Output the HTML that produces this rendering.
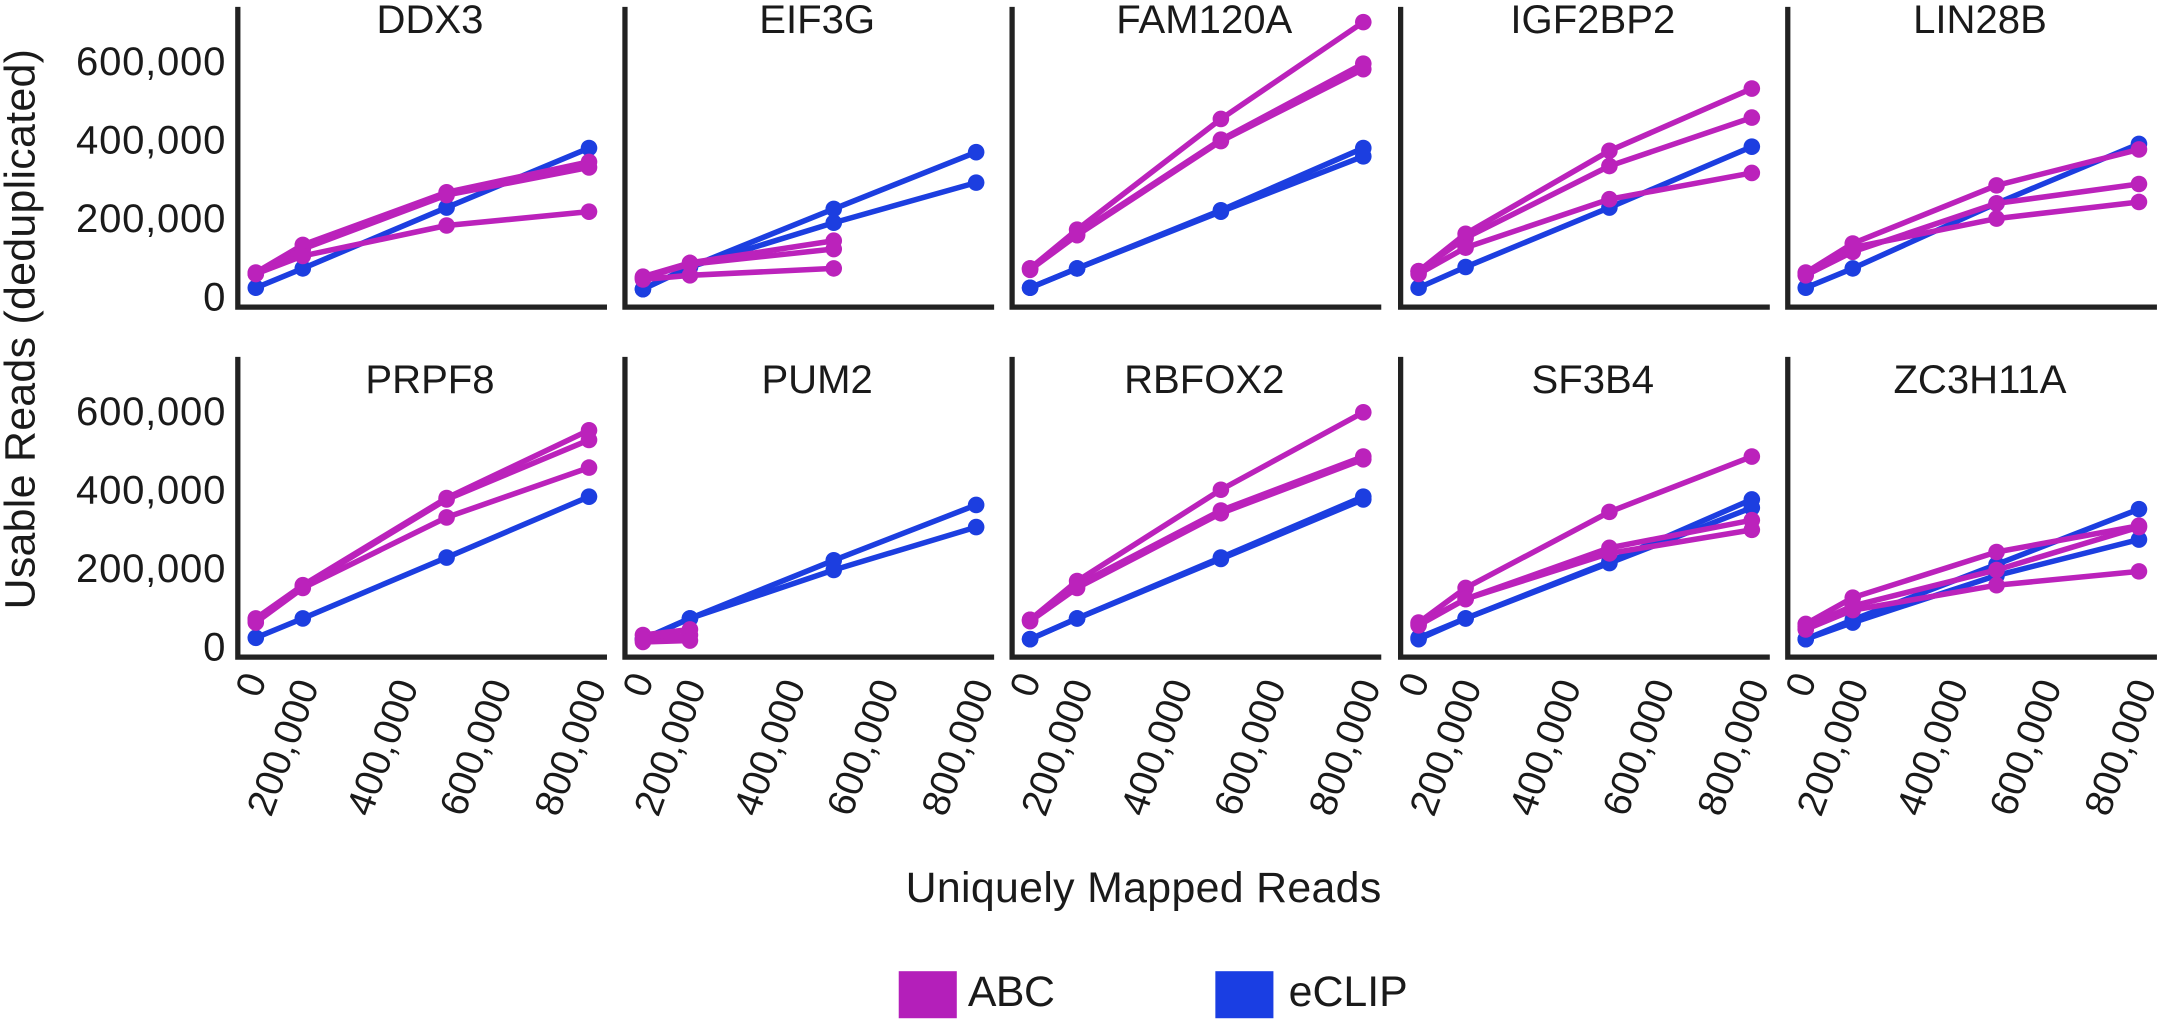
<!DOCTYPE html>
<html><head><meta charset="utf-8"><style>
html,body{margin:0;padding:0;background:#fff;}
svg{display:block;}
text{font-family:"Liberation Sans",Arial,sans-serif;fill:#1a1a1a;}
.ax{stroke:#222;stroke-width:3.8;fill:none;}
.m polyline{stroke:#bb22bb;stroke-width:4;fill:none;stroke-linejoin:round;}
.b polyline{stroke:#1c3ee0;stroke-width:4;fill:none;stroke-linejoin:round;}
.m circle{fill:#bb22bb;}
.b circle{fill:#1c3ee0;}
.yt{font-size:29px;text-anchor:end;}
.tt{font-size:29px;text-anchor:middle;}
.xt{font-size:28px;text-anchor:middle;}
</style></head><body>
<svg id="s" width="2168" height="1021" viewBox="0 0 1568 738" preserveAspectRatio="none" xmlns="http://www.w3.org/2000/svg">
<g>
<text class="yt" x="163" y="224.5">0</text>
<text class="yt" x="163" y="167.7" textLength="108">200,000</text>
<text class="yt" x="163" y="110.9" textLength="108">400,000</text>
<text class="yt" x="163" y="54.1" textLength="108">600,000</text>
<text class="yt" x="163" y="477.5">0</text>
<text class="yt" x="163" y="420.7" textLength="108">200,000</text>
<text class="yt" x="163" y="363.9" textLength="108">400,000</text>
<text class="yt" x="163" y="307.1" textLength="108">600,000</text>
</g>
<text font-size="31" text-anchor="middle" transform="translate(25,238) rotate(-90)" textLength="405">Usable Reads (deduplicated)</text>
<text font-size="31" text-anchor="middle" x="827" y="652" textLength="344">Uniquely Mapped Reads</text>
<rect x="650" y="702" width="42" height="34" fill="#b41fba"/>
<text font-size="31" x="700" y="727" textLength="63">ABC</text>
<rect x="879" y="702" width="42" height="34" fill="#1a3ee3"/>
<text font-size="31" x="932" y="727">eCLIP</text>
<g id="axes"></g>
<g id="data"></g>
</svg>
<script>
(function(){
var NS="http://www.w3.org/2000/svg";
var axes=document.getElementById('axes'),data=document.getElementById('data');
var AX=[172,452,732,1013,1293];
var OFF=[13,47,151,254];
var titles=[["DDX3","EIF3G","FAM120A","IGF2BP2","LIN28B"],["PRPF8","PUM2","RBFOX2","SF3B4","ZC3H11A"]];
var rows=[{top:5,bot:222,tb:24},{top:258,bot:475,tb:284}];
function el(n,a,p,t){var e=document.createElementNS(NS,n);for(var k in a)e.setAttribute(k,a[k]);if(t)e.textContent=t;p.appendChild(e);return e;}
for(var r=0;r<2;r++)for(var c=0;c<5;c++){
 var ax=AX[c],R=rows[r];
 el('path',{'class':'ax',d:'M'+ax+' '+R.top+' L'+ax+' '+R.bot+' L'+(ax+267)+' '+R.bot},axes);
 el('text',{'class':'tt',x:ax+139,y:R.tb},axes,titles[r][c]);
 if(r==1){
  var L=[["0",9,494.7],["200,000",32,540],["400,000",104,540],["600,000",171.5,540],["800,000",240,540]];
  L.forEach(function(l){var t=el('text',{'class':'xt',transform:'translate('+(ax+l[1])+','+l[2]+') rotate(-70)',y:10},axes,l[0]);if(l[0].length>1)t.setAttribute('textLength','102');});
 }
}
var D=[
 [[[208,194,150,107]],[[197,177,139,117],[198,180,141,121],[198,185,163,153]]],
 [[[209,193,151,110],[209,193,161,132]],[[200,190,174],[201,191,180],[202,199,194]]],
 [[[208,194,152,107],[208,194,153,113]],[[194,166,86,16],[194,169,101,46],[195,170,102,50]]],
 [[[208,193,150,106]],[[196,169,109,64],[196,172,120,85],[198,179,144,125]]],
 [[[208,194,147,104]],[[197,176,134,108],[199,182,147,133],[198,179,158,146]]],
 [[[461,447,403,359]],[[447,423,360,311],[448,424,361,318],[450,425,374,338]]],
 [[[462,447,405,365],[462,447,412,381]],[[459,455],[462,459],[464,463]]],
 [[[462,447,403,359],[462,447,404,361]],[[448,420,354,298],[448,423,369,330],[449,425,371,332]]],
 [[[461,447,406,361],[462,447,407,367]],[[450,425,370,330],[451,433,396,376],[452,433,400,383]]],
 [[[462,448,408,368],[462,450,416,390]],[[451,432,399,380],[455,441,423,413],[453,438,412,381]]]
];
D.forEach(function(p,i){
 var ax=AX[i%5];
 [['b',p[0]],['m',p[1]]].forEach(function(s){
  var g=el('g',{'class':s[0]},data);
  s[1].forEach(function(ys){
   var pts=ys.map(function(y,j){return (ax+OFF[j])+','+y;}).join(' ');
   el('polyline',{points:pts},g);
   ys.forEach(function(y,j){el('circle',{cx:ax+OFF[j],cy:y,r:6},g);});
  });
 });
});
})();
</script>
</body></html>
